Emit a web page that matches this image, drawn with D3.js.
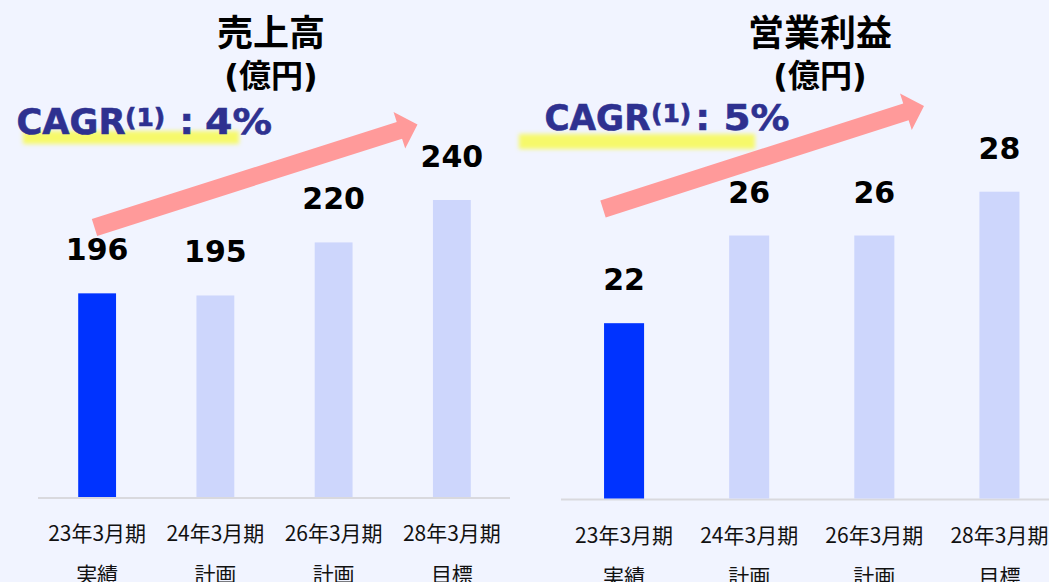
<!DOCTYPE html>
<html>
<head>
<meta charset="utf-8">
<script src="https://cdn.jsdelivr.net/npm/d3@7"></script>
<style>
  html, body { margin: 0; padding: 0; background: #F1F4FF; }
  svg { display: block; }
</style>
</head>
<body>
<svg id="chart" width="1049" height="582"></svg>
<script>
// ---- data ----
const categories = ["23年3月期", "24年3月期", "26年3月期", "28年3月期"];
const subLabels = ["実績", "計画", "計画", "目標"];
const salesValues = [196, 195, 220, 240];
const profitValues = [22, 26, 26, 28];
const barKinds = ["actual", "plan", "plan", "plan"];
const salesTitle = "売上高";
const profitTitle = "営業利益";
const unitLabel = "(億円)";
const salesCagr = ["CAGR", "(1)", ":", "4%"];
const profitCagr = ["CAGR", "(1)", ":", "5%"];

const svg = d3.select("#chart");
const BG = "#F1F4FF";
svg.append("rect").attr("width", 1049).attr("height", 582).attr("fill", BG);

const defs = svg.append("defs");
defs.append("filter").attr("id", "blur").attr("x", "-10%").attr("y", "-60%")
  .attr("width", "120%").attr("height", "220%")
  .append("feGaussianBlur").attr("stdDeviation", 2.2);

const NUM_FONT = "'DejaVu Sans', Verdana, sans-serif";
const CJK_FONT = "'Noto Sans CJK JP', 'Noto Sans', sans-serif";

function arrow(g, sx, sy, tx, ty) {
  const dx = tx - sx, dy = ty - sy, len = Math.hypot(dx, dy);
  const ux = dx / len, uy = dy / len, nx = -uy, ny = ux;
  const hs = 8.8, hw = 19.2, hl = 19;
  const bx = tx - ux * hl, by = ty - uy * hl;
  const pts = [
    [sx + nx * hs, sy + ny * hs],
    [bx + nx * hs, by + ny * hs],
    [bx + nx * hw, by + ny * hw],
    [tx, ty],
    [bx - nx * hw, by - ny * hw],
    [bx - nx * hs, by - ny * hs],
    [sx - nx * hs, sy - ny * hs]
  ];
  g.append("polygon").attr("points", pts.map(p => p.join(",")).join(" "))
    .attr("fill", "#FF9A9A");
}

function panel(cfg) {
  const g = svg.append("g");
  const x = d3.scaleBand().domain(categories).range(cfg.xRange)
    .paddingInner(0.68).paddingOuter(0.34);
  const y = d3.scaleLinear().domain(cfg.yDomain).range(cfg.yRange);
  const base = y(cfg.yDomain[0]);

  // highlight
  g.append("rect").attr("x", cfg.hl[0]).attr("y", cfg.hl[1])
    .attr("width", cfg.hl[2]).attr("height", cfg.hl[3])
    .attr("fill", "#F6F96A").attr("filter", "url(#blur)");

  // CAGR text
  const o = cfg.cagrOffsets, cx = cfg.cagrX;
  const cagrText = (txt, xx, yy, size, len) => {
    const el = g.append("text").attr("x", cx + xx).attr("y", yy)
      .attr("font-family", NUM_FONT).attr("font-weight", "bold")
      .attr("font-size", size)
      .attr("fill", "#2E3190").attr("stroke", "#2E3190").attr("stroke-width", 0.6)
      .text(txt);
    if (len) el.attr("textLength", len).attr("lengthAdjust", "spacingAndGlyphs");
  };
  cagrText(cfg.cagr[0], o[0], cfg.cagrY, 36, o[4]);
  cagrText(cfg.cagr[1], o[1], cfg.cagrY - 8, 25, null);
  cagrText(cfg.cagr[2], o[2], cfg.cagrY, 36, null);
  cagrText(cfg.cagr[3], o[3], cfg.cagrY, 36, o[5]);

  // titles
  g.append("text").attr("x", cfg.titleX).attr("y", 46).attr("text-anchor", "middle")
    .attr("font-family", CJK_FONT).attr("font-weight", "bold").attr("font-size", 36)
    .attr("fill", "#000").text(cfg.title);
  g.append("text").attr("x", cfg.titleX).attr("y", 87).attr("text-anchor", "middle")
    .attr("font-family", NUM_FONT + ", " + CJK_FONT).attr("font-weight", "bold").attr("font-size", 32)
    .attr("fill", "#000").text(unitLabel);

  // axis line
  g.append("line").attr("x1", cfg.axisX[0]).attr("x2", cfg.axisX[1])
    .attr("y1", base + 1).attr("y2", base + 1)
    .attr("stroke", "#D9D9DE").attr("stroke-width", 2);

  // bars
  g.selectAll("rect.bar").data(cfg.values).join("rect").attr("class", "bar")
    .attr("x", (d, i) => x(categories[i]))
    .attr("width", x.bandwidth())
    .attr("y", d => y(d))
    .attr("height", d => base - y(d))
    .attr("fill", (d, i) => barKinds[i] === "actual" ? "#0033FF" : "#CDD6FC");

  // value labels
  g.selectAll("text.val").data(cfg.values).join("text").attr("class", "val")
    .attr("x", (d, i) => x(categories[i]) + x.bandwidth() / 2)
    .attr("y", d => y(d) - 33)
    .attr("text-anchor", "middle")
    .attr("font-family", NUM_FONT).attr("font-weight", "bold").attr("font-size", 30)
    .attr("fill", "#000").text(d => d);

  // category labels
  const cl = g.selectAll("g.cat").data(categories).join("g").attr("class", "cat")
    .attr("transform", d => `translate(${x(d) + x.bandwidth() / 2},0)`);
  cl.append("text").attr("y", cfg.catY[0]).attr("text-anchor", "middle")
    .attr("font-family", CJK_FONT).attr("font-size", 21).attr("fill", "#111")
    .text(d => d);
  cl.append("text").attr("y", cfg.catY[1]).attr("text-anchor", "middle")
    .attr("font-family", CJK_FONT).attr("font-size", 21).attr("fill", "#111")
    .text((d, i) => subLabels[i]);

  arrow(g, cfg.arrow[0], cfg.arrow[1], cfg.arrow[2], cfg.arrow[3]);
}

panel({
  values: salesValues, title: salesTitle, cagr: salesCagr,
  xRange: [38, 511], yDomain: [100, 240], yRange: [497, 200],
  axisX: [38, 510], titleX: 271, cagrX: 16.5, cagrY: 133.5,
  cagrOffsets: [0, 108.5, 163, 188.5, 109, 67],
  hl: [23, 131, 216, 13], catY: [541, 582],
  arrow: [94.5, 227.5, 417.5, 124.5]
});

panel({
  values: profitValues, title: profitTitle, cagr: profitCagr,
  xRange: [561.5, 1062], yDomain: [14, 28], yRange: [498.5, 191.7],
  axisX: [561, 1049], titleX: 820, cagrX: 544.5, cagrY: 130,
  cagrOffsets: [0, 106.5, 151, 179, 106, 66],
  hl: [519, 134, 236, 15], catY: [543, 584],
  arrow: [603, 209, 924, 106]
});
</script>
</body>
</html>
